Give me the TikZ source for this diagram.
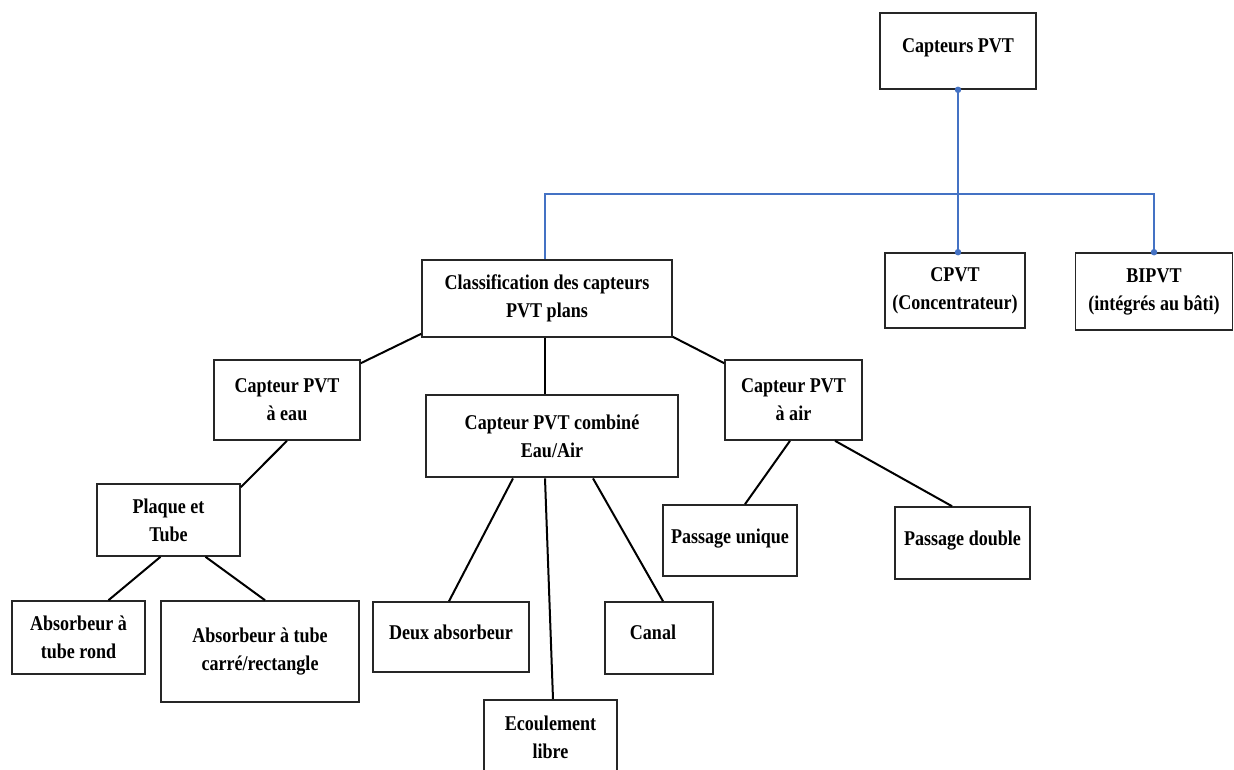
\documentclass[tikz,border=0pt]{standalone}
\usepackage{fontspec}
\setmainfont{Liberation Serif}[FakeStretch=0.86]
\definecolor{linkblue}{HTML}{4472C4}
\begin{document}
\begin{tikzpicture}[x=1pt,y=-1pt,
  box/.style={draw=black!85,line width=1.6pt,fill=white,align=center,inner sep=2pt,
    font=\fontsize{21}{28}\selectfont\bfseries},
  thickbox/.style={box,line width=2.8pt},
  conn/.style={draw=black,line width=2pt},
  blueline/.style={draw=linkblue,line width=1.5pt},
  bdot/.style={fill=linkblue,circle,inner sep=0pt,minimum size=6.5pt}]
\useasboundingbox (0,0) rectangle (1234,769);
% nodes
\node[box,minimum width=156,minimum height=76] (top) at (958,51) {\raisebox{11pt}{Capteurs PVT}};
\node[box,minimum width=140,minimum height=75] (cpvt) at (955,290.5) {CPVT\\(Concentrateur)};
\node[box,minimum width=157,minimum height=77] (bipvt) at (1154,291.5) {BIPVT\\(intégrés au bâti)};
\node[box,minimum width=250,minimum height=77] (clf) at (547,298.5) {Classification des capteurs\\PVT plans};
\node[thickbox,minimum width=252,minimum height=82] (comb) at (552,436) {Capteur PVT combiné\\Eau/Air};
\node[box,minimum width=146,minimum height=80] (eau) at (287,400) {Capteur PVT\\à eau};
\node[box,minimum width=137,minimum height=80] (air) at (793.5,400) {Capteur PVT\\à air};
\node[box,minimum width=143,minimum height=72] (plaque) at (168.5,520) {Plaque et\\Tube};
\node[box,minimum width=133,minimum height=73] (rond) at (78.5,637.5) {Absorbeur à\\tube rond};
\node[box,minimum width=198,minimum height=101] (carre) at (260,651.5) {Absorbeur à tube\\carré/rectangle};
\node[box,minimum width=156,minimum height=70] (deux) at (451,637) {\raisebox{10pt}{Deux absorbeur}};
\node[box,minimum width=108,minimum height=72] (canal) at (659,638) {\raisebox{12pt}{Canal}\hspace*{12pt}};
\node[box,minimum width=133,minimum height=74] (ecoul) at (550.5,737) {Ecoulement\\libre};
\node[box,minimum width=134,minimum height=71] (punique) at (730,540.5) {\raisebox{9pt}{Passage unique}};
\node[box,minimum width=135,minimum height=72] (pdouble) at (962.5,543) {\raisebox{10pt}{Passage double}};
% blue connectors
\coordinate (hy) at (0,194);
\draw[blueline] (top.south) -- (top.south |- cpvt.north);
\draw[blueline] ([xshift=-2pt]clf.north) |- (bipvt.north |- hy) -- (bipvt.north);
\node[bdot] (d1) at (top.south) {};
\node[bdot] (d2) at (top.south |- cpvt.north) {};
\node[bdot] (d3) at (bipvt.north) {};
% black connectors
\draw[conn] ([yshift=4pt]clf.south west) -- ([yshift=-4pt]eau.north east);
\draw[conn] ([yshift=1pt]clf.south east) -- ([yshift=-4pt]air.north west);
\draw[conn,line width=1.3pt] ([xshift=-2pt]clf.south) -- ([xshift=-2pt]clf.south |- comb.north);
\draw[conn] (eau.south) -- ([yshift=-4pt]plaque.north east);
\draw[conn] ([xshift=-8pt]plaque.south) -- ([xshift=30pt]rond.north);
\draw[conn] ([xshift=37pt]plaque.south) -- ([xshift=5pt]carre.north);
\draw[conn] ([xshift=-39pt]comb.south) -- ([xshift=-2pt]deux.north);
\draw[conn] ([xshift=-7pt]comb.south) -- ([xshift=2.5pt]ecoul.north);
\draw[conn] ([xshift=41pt]comb.south) -- ([xshift=4pt]canal.north);
\draw[conn] ([xshift=-3.5pt]air.south) -- ([xshift=15pt]punique.north);
\draw[conn] ([xshift=41.5pt]air.south) -- ([xshift=-10.5pt]pdouble.north);
\end{tikzpicture}
\end{document}
